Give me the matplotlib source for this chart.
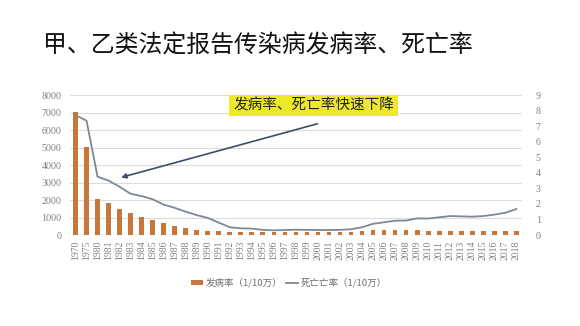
import numpy as np
import matplotlib.pyplot as plt

plt.rcParams['font.family'] = ['Noto Sans CJK SC', 'DejaVu Sans']

# 数据
years = ['1970', '1975'] + [str(y) for y in range(1980, 2019)]
incidence = [7050, 5050, 2040, 1850, 1490, 1260, 1010, 840, 690, 515, 420, 300,
             250, 235, 200, 185, 180, 175, 170, 180, 195, 195, 190, 195, 185, 192,
             245, 268, 267, 272, 268, 264, 239, 241, 239, 226, 227, 224, 216, 222, 221]
mortality = [7.7, 7.35, 3.75, 3.5, 3.1, 2.65, 2.5, 2.3, 1.95, 1.75, 1.5, 1.28,
             1.1, 0.8, 0.5, 0.43, 0.41, 0.33, 0.3, 0.32, 0.34, 0.33, 0.32, 0.32, 0.33, 0.37,
             0.5, 0.72, 0.82, 0.92, 0.93, 1.07, 1.06, 1.14, 1.22, 1.2, 1.18, 1.22, 1.31, 1.43, 1.67]

title = '甲、乙类法定报告传染病发病率、死亡率'
note = '发病率、死亡率快速下降'
lab_inc = '发病率（1/10万）'
lab_mort = '死亡亡率（1/10万）'

bar_color = '#c8773a'
line_color = '#7d8796'
tick_color = '#808080'

fig = plt.figure(figsize=(5.8, 3.26), dpi=100)
ax = fig.add_axes([0.1207, 0.2791, 0.779, 0.4294])
ax2 = ax.twinx()

x = np.arange(len(years))
bars = ax.bar(x, incidence, width=0.43, color=bar_color, zorder=2)
line, = ax2.plot(x, mortality, color=line_color, lw=1.3, zorder=3)

ax.set_xlim(-0.5, len(years) - 0.5)
ax.set_ylim(0, 8000)
ax2.set_ylim(0, 9)
ax.set_yticks(range(0, 8001, 1000))
ax2.set_yticks(range(0, 10))
ax.grid(axis='y', color='#dcdcdc', lw=0.8, zorder=0)
ax.set_axisbelow(True)

ax.set_xticks(x)
ax.set_xticklabels(years, rotation=90, family='Liberation Serif', fontsize=7, color=tick_color)
for a in (ax, ax2):
    for s in a.spines.values():
        s.set_visible(False)
    a.tick_params(length=0)
ax.tick_params(axis='y', pad=6, labelsize=7.2, labelcolor=tick_color)
ax2.tick_params(axis='y', pad=10, labelsize=7.2, labelcolor=tick_color)
ax.tick_params(axis='x', pad=4)
for lbl in ax.get_yticklabels() + ax2.get_yticklabels():
    lbl.set_family('Liberation Serif')

# 标题
fig.text(0.445, 0.859, title, ha='center', va='center', fontsize=17.2, color='#111111')

# 注释
ax.annotate('', xy=(3.9, 3250), xytext=(22.2, 6400),
            arrowprops=dict(arrowstyle='-|>', color='#3d4f66', lw=1.2, mutation_scale=7))
ax.text(21.6, 7400, note, ha='center', va='center', fontsize=10.5, color='#222222',
        bbox=dict(boxstyle='square,pad=0.25', fc='#ede92a', ec='none'), zorder=5)

# 图例
fig.legend([bars, line], [lab_inc, lab_mort], loc='center', bbox_to_anchor=(0.498, 0.132),
           ncol=2, frameon=False, fontsize=6.8, labelcolor='#6e6e6e',
           handlelength=1.3, handletextpad=0.3, columnspacing=0.3, handleheight=0.5)

fig.savefig('out.png', dpi=100)
